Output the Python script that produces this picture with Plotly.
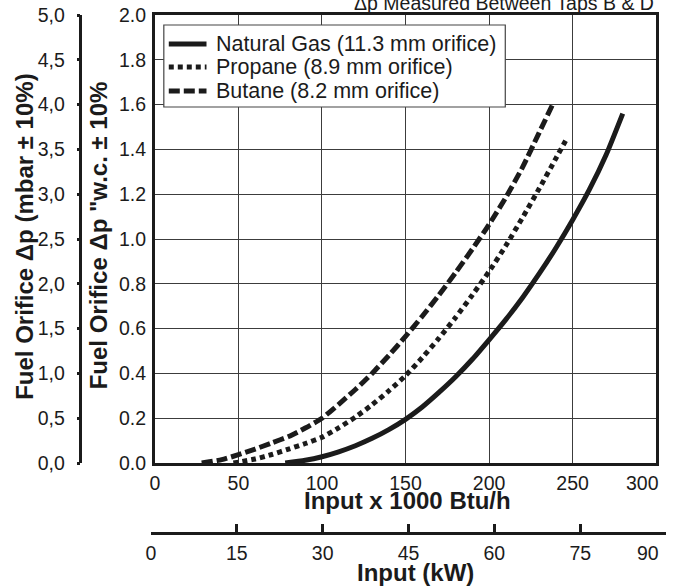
import plotly.graph_objects as go

# Burner input (x 1000 Btu/h) against fuel orifice pressure drop ("w.c.)
natural_gas_input = [78, 90, 100, 110, 120, 130, 140, 150, 160, 170, 180, 190, 200,
                     210, 220, 230, 240, 250, 260, 270, 280]
natural_gas_dp = [0.0, 0.012, 0.028, 0.05, 0.077, 0.11, 0.149, 0.195, 0.25, 0.315, 0.385,
                  0.463, 0.55, 0.64, 0.738, 0.845, 0.96, 1.085, 1.22, 1.375, 1.56]

propane_input = [47, 60, 70, 80, 90, 100, 110, 120, 130, 140, 150, 160, 170, 180, 190,
                 200, 210, 220, 230, 240, 247]
propane_dp = [0.0, 0.018, 0.038, 0.062, 0.087, 0.115, 0.157, 0.205, 0.26, 0.322, 0.39,
              0.47, 0.557, 0.65, 0.75, 0.855, 0.97, 1.095, 1.225, 1.36, 1.455]

butane_input = [28, 40, 50, 60, 70, 80, 90, 100, 110, 120, 130, 140, 150, 160, 170, 180,
                190, 200, 210, 220, 230, 238]
butane_dp = [0.0, 0.015, 0.037, 0.062, 0.09, 0.118, 0.156, 0.2, 0.262, 0.328, 0.4, 0.48,
             0.565, 0.655, 0.75, 0.85, 0.955, 1.065, 1.185, 1.32, 1.475, 1.6]

series_names = [
    "Natural Gas (11.3 mm orifice)",
    "Propane (8.9 mm orifice)",
    "Butane (8.2 mm orifice)",
]

# Axis ticks
btu_ticks = [0, 50, 100, 150, 200, 250, 300]
kw_ticks = [0, 15, 30, 45, 60, 75, 90]
wc_ticks = [0.0, 0.2, 0.4, 0.6, 0.8, 1.0, 1.2, 1.4, 1.6, 1.8, 2.0]
mbar_ticks = [0.0, 0.5, 1.0, 1.5, 2.0, 2.5, 3.0, 3.5, 4.0, 4.5, 5.0]
mbar_labels = ["0,0", "0,5", "1,0", "1,5", "2,0", "2,5", "3,0", "3,5", "4,0", "4,5", "5,0"]

W, H = 678, 587
TOP, BOTTOM = 15, 540          # paper area, in px from the top
PH = BOTTOM - TOP
EDGE_TEXT = 660                # last tick labels end here, clear of the page edge


def fx(px):
    return px / W


def fy(py):
    return (BOTTOM - py) / PH


INK = "#1b1b1b"
GRID = "#3c3c3c"
FONT = "Liberation Sans, Arial, Helvetica, sans-serif"

styles = [
    dict(color=INK, width=5, dash="solid"),
    dict(color=INK, width=5, dash="5px,4px"),
    dict(color=INK, width=5, dash="11px,4px"),
]

fig = go.Figure()
for name, xs, ys, st in zip(
    series_names,
    [natural_gas_input, propane_input, butane_input],
    [natural_gas_dp, propane_dp, butane_dp],
    styles,
):
    fig.add_trace(go.Scatter(
        x=xs, y=ys, name=name, mode="lines",
        line=dict(color=st["color"], width=st["width"], dash=st["dash"], shape="spline", smoothing=0.6),
        showlegend=False, xaxis="x", yaxis="y",
    ))

# carriers for the secondary scales (kW and mbar)
fig.add_trace(go.Scatter(x=[], y=[], xaxis="x2", yaxis="y2", showlegend=False, hoverinfo="skip"))
fig.add_trace(go.Scatter(x=[], y=[], xaxis="x", yaxis="y3", showlegend=False, hoverinfo="skip"))

tick_font = dict(family=FONT, size=19.5, color=INK)

# the right-most label of each horizontal scale is set as a separate text
btu_text = [str(v) for v in btu_ticks[:-1]] + [""]
kw_text = [str(v) for v in kw_ticks[:-1]] + [""]

fig.update_layout(
    width=W, height=H, autosize=False,
    margin=dict(l=0, r=0, t=TOP, b=H - BOTTOM, pad=0),
    paper_bgcolor="white", plot_bgcolor="white",
    font=dict(family=FONT, color=INK),
    showlegend=False,
    xaxis=dict(
        domain=[fx(151), fx(656)], anchor="y", range=[0, 300],
        tickmode="array", tickvals=btu_ticks, ticktext=btu_text, ticks="",
        showgrid=True, gridcolor=GRID, gridwidth=1.2, zeroline=False,
        showline=True, mirror=True, linecolor=INK, linewidth=3,
        tickfont=tick_font, ticklabelstandoff=1,
    ),
    yaxis=dict(
        domain=[fy(463), 1], anchor="x", range=[0, 2.0],
        tickmode="array", tickvals=wc_ticks, tickformat=".1f", ticks="",
        showgrid=True, gridcolor=GRID, gridwidth=1.2, zeroline=False,
        showline=True, mirror=True, linecolor=INK, linewidth=3,
        tickfont=tick_font, ticklabelstandoff=2,
    ),
    yaxis3=dict(
        overlaying="y", anchor="free", position=fx(76), side="left",
        range=[0, 5], tickmode="array", tickvals=mbar_ticks, ticktext=mbar_labels,
        showgrid=False, zeroline=False, showline=True, linecolor=INK, linewidth=2.5,
        ticks="outside", ticklen=3, tickwidth=2.5, tickcolor=INK,
        tickfont=tick_font, ticklabelstandoff=8,
    ),
    xaxis2=dict(
        domain=[fx(147), fx(666)], anchor="y2", range=[0, 90],
        tickmode="array", tickvals=kw_ticks, ticktext=kw_text,
        showgrid=False, zeroline=False, showline=True, linecolor=INK, linewidth=2.5,
        ticks="inside", ticklen=8, tickwidth=2.5, tickcolor=INK,
        tickfont=tick_font, ticklabelstandoff=2,
    ),
    yaxis2=dict(domain=[fy(532), fy(532) + 0.004], anchor="x2", visible=False, range=[0, 1]),
)

bold = dict(family=FONT, size=24, color=INK)
annotations = [
    dict(text="Δp Measured Between Taps B & D", x=fx(503), y=fy(16), yanchor="bottom",
         font=dict(family=FONT, size=19.5, color=INK)),
    dict(text="<b>Input x 1000 Btu/h</b>", x=fx(405), y=fy(500), yanchor="middle", font=bold),
    dict(text="<b>Input (kW)</b>", x=fx(414), y=fy(572), yanchor="middle", font=bold),
    dict(text="<b>Fuel Orifice Δp (mbar ± 10%)</b>", x=fx(19), y=fy(236), textangle=-90,
         xanchor="center", yanchor="middle", font=bold),
    dict(text="<b>Fuel Orifice Δp \"w.c. ± 10%</b>", x=fx(95), y=fy(235), textangle=-90,
         xanchor="center", yanchor="middle", font=bold),
    # end labels of the two horizontal scales
    dict(text=str(btu_ticks[-1]), x=fx(EDGE_TEXT), y=fy(483), xanchor="right", yanchor="middle",
         font=tick_font, borderpad=0),
    dict(text=str(kw_ticks[-1]), x=fx(EDGE_TEXT), y=fy(553), xanchor="right", yanchor="middle",
         font=tick_font, borderpad=0),
]
for a in annotations:
    a.update(xref="paper", yref="paper", showarrow=False)
    a.setdefault("xanchor", "center")

# key box with line samples
shapes = [dict(type="rect", xref="paper", yref="paper", x0=fx(160), x1=fx(504),
               y0=fy(107), y1=fy(25), fillcolor="white", line=dict(color="#444444", width=1.2),
               layer="above")]
for row_y, name, st in zip([44, 67, 91], series_names, styles):
    shapes.append(dict(type="line", xref="paper", yref="paper", x0=fx(165), x1=fx(203),
                       y0=fy(row_y), y1=fy(row_y), layer="above",
                       line=dict(color=st["color"], width=st["width"], dash=st["dash"])))
    annotations.append(dict(text=name, x=fx(211), y=fy(row_y), xref="paper", yref="paper",
                            xanchor="left", yanchor="middle", showarrow=False,
                            font=dict(family=FONT, size=21.5, color=INK)))

fig.update_layout(annotations=annotations, shapes=shapes)
fig.write_html("out.html")
